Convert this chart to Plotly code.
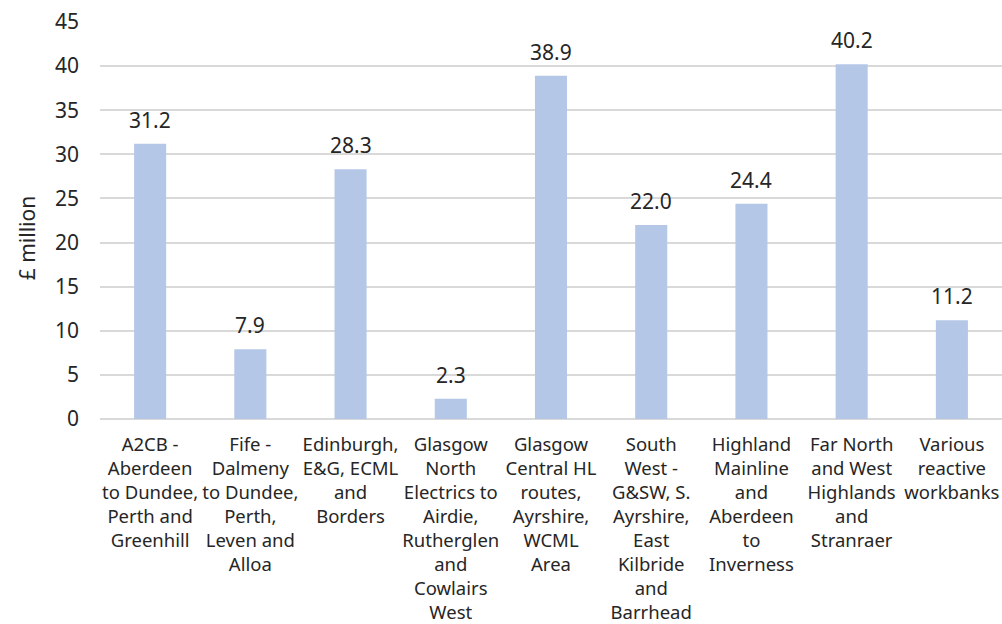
import plotly.graph_objects as go

categories = [
    "A2CB -<br>Aberdeen<br>to Dundee,<br>Perth and<br>Greenhill",
    "Fife -<br>Dalmeny<br>to Dundee,<br>Perth,<br>Leven and<br>Alloa",
    "Edinburgh,<br>E&G, ECML<br>and<br>Borders",
    "Glasgow<br>North<br>Electrics to<br>Airdie,<br>Rutherglen<br>and<br>Cowlairs<br>West",
    "Glasgow<br>Central HL<br>routes,<br>Ayrshire,<br>WCML<br>Area",
    "South<br>West -<br>G&SW, S.<br>Ayrshire,<br>East<br>Kilbride<br>and<br>Barrhead",
    "Highland<br>Mainline<br>and<br>Aberdeen<br>to<br>Inverness",
    "Far North<br>and West<br>Highlands<br>and<br>Stranraer",
    "Various<br>reactive<br>workbanks",
]
values = [31.2, 7.9, 28.3, 2.3, 38.9, 22.0, 24.4, 40.2, 11.2]
y_ticks = [0, 5, 10, 15, 20, 25, 30, 35, 40, 45]
y_title = "£ million"

FONT = "Noto Sans"
TXT = "#262626"

fig = go.Figure(
    go.Bar(
        x=categories,
        y=values,
        marker=dict(color="#B4C7E7", line=dict(width=0)),
        width=0.32,
        hoverinfo="x+y",
    )
)

for c, v in zip(categories, values):
    fig.add_annotation(
        x=c, y=v, xref="x", yref="y",
        text=f"{v:.1f}", showarrow=False,
        yanchor="bottom", yshift=8,
        font=dict(family=FONT, size=21, color=TXT),
    )

fig.add_annotation(
    x=-0.081, y=0.455, xref="paper", yref="paper",
    text=y_title, textangle=-90, showarrow=False,
    xanchor="center", yanchor="middle",
    font=dict(family=FONT, size=21, color=TXT),
)

fig.update_layout(
    width=1002,
    height=624,
    margin=dict(l=100, r=0, t=22, b=202),
    paper_bgcolor="white",
    plot_bgcolor="white",
    font=dict(family=FONT, size=18, color=TXT),
    showlegend=False,
    xaxis=dict(
        tickangle=0,
        tickfont=dict(family=FONT, size=18.5, color=TXT),
        showgrid=False,
        showline=False,
        ticks="",
        ticklabelstandoff=12,
    ),
    yaxis=dict(
        range=[0, 45],
        tickvals=y_ticks,
        showgrid=True,
        gridcolor="#D9D9D9",
        gridwidth=1.5,
        zeroline=True,
        zerolinecolor="#D9D9D9",
        zerolinewidth=1.5,
        showline=False,
        ticks="",
        tickfont=dict(family=FONT, size=21, color=TXT),
        ticklabelstandoff=20,
    ),
)

fig.write_html("out.html")
